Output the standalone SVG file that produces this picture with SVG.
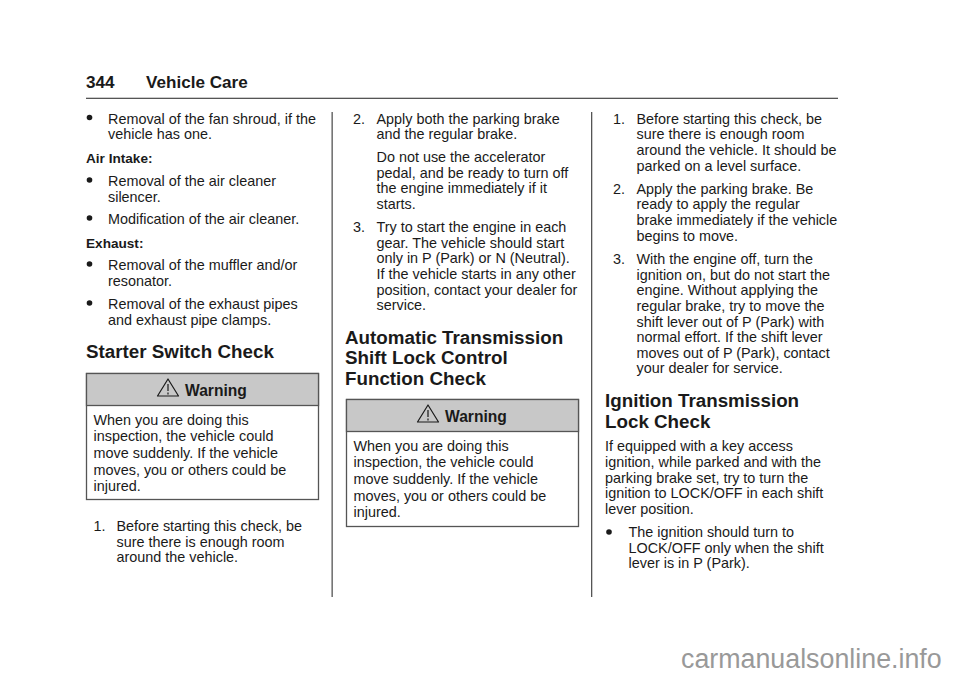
<svg xmlns="http://www.w3.org/2000/svg" width="960" height="678" viewBox="0 0 960 678">
<style>
text{font-family:"Liberation Sans",Arial,sans-serif;fill:#1a1a1a}
.b{font-size:14.4px}
.s{font-size:13.6px;font-weight:bold}
.h{font-size:18.8px;font-weight:bold}
.t{font-size:17.1px;font-weight:bold}
.w{font-size:15.6px;font-weight:bold}
.box{fill:#fff;stroke:#555;stroke-width:1.3}
.hd{fill:#c8c8c8;stroke:#555;stroke-width:1.3}
.ic{fill:none;stroke:#1a1a1a;stroke-width:1.2;stroke-linejoin:round}
.dot{fill:#1a1a1a}
</style>
<defs>
<g id="warn"><path class="ic" d="M0.500 17.500 L11 0.500 L21.500 17.500 Z"/><path class="ic" d="M11 5.500 V12.500 M11 14 V16"/></g>
<circle id="bul" r="2.8" class="dot"/>
</defs>
<rect width="960" height="678" fill="#fff"/>
<text class="t" x="86" y="88">344</text><text class="t" x="146" y="88">Vehicle Care</text>
<rect x="86" y="97.700" width="752" height="1.300" fill="#555"/>
<rect x="331.500" y="112" width="1.300" height="485" fill="#555"/>
<rect x="591" y="112" width="1.300" height="485" fill="#555"/>
<g id="col1">
<use href="#bul" x="89.500" y="117.500"/><text class="b" x="108" y="123.500">Removal of the fan shroud, if the</text><text class="b" x="108" y="139">vehicle has one.</text>
<text class="s" x="86" y="163">Air Intake:</text>
<use href="#bul" x="89.500" y="180"/><text class="b" x="108" y="186">Removal of the air cleaner</text><text class="b" x="108" y="201.500">silencer.</text>
<use href="#bul" x="89.500" y="218"/><text class="b" x="108" y="224">Modification of the air cleaner.</text>
<text class="s" x="86" y="247.500">Exhaust:</text>
<use href="#bul" x="89.500" y="264"/><text class="b" x="108" y="270">Removal of the muffler and/or</text><text class="b" x="108" y="286">resonator.</text>
<use href="#bul" x="89.500" y="303"/><text class="b" x="108" y="309">Removal of the exhaust pipes</text><text class="b" x="108" y="324.500">and exhaust pipe clamps.</text>
<text class="h" x="86" y="358">Starter Switch Check</text>
</g>
<g id="warning1">
<rect class="box" x="86.500" y="373.500" width="232" height="126"/><rect class="hd" x="86.500" y="373.500" width="232" height="32"/>
<use href="#warn" x="157" y="378.500"/><text class="w" x="185" y="396">Warning</text>
<text class="b" x="93.500" y="425">When you are doing this</text><text class="b" x="93.500" y="441">inspection, the vehicle could</text><text class="b" x="93.500" y="458">move suddenly. If the vehicle</text><text class="b" x="93.500" y="474.500">moves, you or others could be</text><text class="b" x="93.500" y="491">injured.</text>
</g>
<g id="col1b">
<text class="b" x="93.500" y="530.500">1.</text><text class="b" x="116.500" y="530.500">Before starting this check, be</text><text class="b" x="116.500" y="546.500">sure there is enough room</text><text class="b" x="116.500" y="562">around the vehicle.</text>
</g>
<g id="col2">
<text class="b" x="353" y="123.500">2.</text><text class="b" x="376.500" y="123.500">Apply both the parking brake</text><text class="b" x="376.500" y="139">and the regular brake.</text>
<text class="b" x="376.500" y="161.500">Do not use the accelerator</text><text class="b" x="376.500" y="177.500">pedal, and be ready to turn off</text><text class="b" x="376.500" y="193">the engine immediately if it</text><text class="b" x="376.500" y="208.500">starts.</text>
<text class="b" x="353" y="232">3.</text><text class="b" x="376.500" y="232">Try to start the engine in each</text><text class="b" x="376.500" y="247.500">gear. The vehicle should start</text><text class="b" x="376.500" y="263">only in P (Park) or N (Neutral).</text><text class="b" x="376.500" y="279">If the vehicle starts in any other</text><text class="b" x="376.500" y="294.500">position, contact your dealer for</text><text class="b" x="376.500" y="310">service.</text>
<text class="h" x="345" y="344">Automatic Transmission</text><text class="h" x="345" y="364">Shift Lock Control</text><text class="h" x="345" y="385">Function Check</text>
</g>
<g id="warning2">
<rect class="box" x="346.500" y="399.500" width="232" height="127"/><rect class="hd" x="346.500" y="399.500" width="232" height="32"/>
<use href="#warn" x="417" y="404.500"/><text class="w" x="445" y="422">Warning</text>
<text class="b" x="353.500" y="451">When you are doing this</text><text class="b" x="353.500" y="467">inspection, the vehicle could</text><text class="b" x="353.500" y="484">move suddenly. If the vehicle</text><text class="b" x="353.500" y="500.500">moves, you or others could be</text><text class="b" x="353.500" y="517">injured.</text>
</g>
<g id="col3">
<text class="b" x="613" y="123.500">1.</text><text class="b" x="636.500" y="123.500">Before starting this check, be</text><text class="b" x="636.500" y="139">sure there is enough room</text><text class="b" x="636.500" y="155">around the vehicle. It should be</text><text class="b" x="636.500" y="170.500">parked on a level surface.</text>
<text class="b" x="613" y="193.500">2.</text><text class="b" x="636.500" y="193.500">Apply the parking brake. Be</text><text class="b" x="636.500" y="209">ready to apply the regular</text><text class="b" x="636.500" y="225">brake immediately if the vehicle</text><text class="b" x="636.500" y="240.500">begins to move.</text>
<text class="b" x="613" y="263.500">3.</text><text class="b" x="636.500" y="263.500">With the engine off, turn the</text><text class="b" x="636.500" y="279.500">ignition on, but do not start the</text><text class="b" x="636.500" y="295">engine. Without applying the</text><text class="b" x="636.500" y="310.500">regular brake, try to move the</text><text class="b" x="636.500" y="326.500">shift lever out of P (Park) with</text><text class="b" x="636.500" y="342">normal effort. If the shift lever</text><text class="b" x="636.500" y="357.500">moves out of P (Park), contact</text><text class="b" x="636.500" y="373">your dealer for service.</text>
<text class="h" x="605" y="407">Ignition Transmission</text><text class="h" x="605" y="428">Lock Check</text>
<text class="b" x="605" y="451">If equipped with a key access</text><text class="b" x="605" y="467">ignition, while parked and with the</text><text class="b" x="605" y="482.500">parking brake set, try to turn the</text><text class="b" x="605" y="498">ignition to LOCK/OFF in each shift</text><text class="b" x="605" y="514">lever position.</text>
<use href="#bul" x="609" y="532"/><text class="b" x="628.500" y="537">The ignition should turn to</text><text class="b" x="628.500" y="552.500">LOCK/OFF only when the shift</text><text class="b" x="628.500" y="568">lever is in P (Park).</text>
</g>
<text x="681" y="668" font-size="26.800" style="fill:#999">carmanualsonline.info</text>
</svg>
